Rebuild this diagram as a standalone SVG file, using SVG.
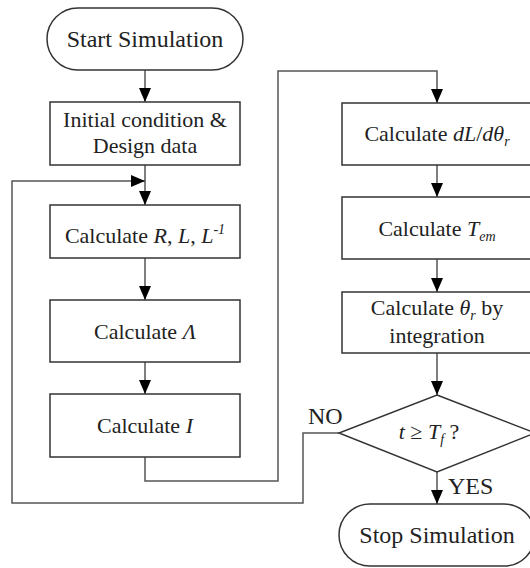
<svg xmlns="http://www.w3.org/2000/svg" width="530" height="568" viewBox="0 0 530 568">
<style>
.box{fill:#fff;stroke:#333;stroke-width:1.5}
.conn{fill:none;stroke:#555;stroke-width:1.5}
text{font-family:"Liberation Serif","Times New Roman",serif;font-size:22px;fill:#222;text-anchor:middle}
.term{font-size:24px}
.lbl{font-size:24px;text-anchor:start}
.it{font-style:italic}
</style>
<defs>
<marker id="ah" markerUnits="userSpaceOnUse" markerWidth="14" markerHeight="12" refX="14" refY="6" orient="auto">
<path d="M0,0 L14,6 L0,12 z" fill="#000"/>
</marker>
</defs>
<rect width="530" height="568" fill="#fff"/>
<g id="connectors">
<path class="conn" d="M145,70 V102" marker-end="url(#ah)"/>
<path class="conn" d="M145,165 V205" marker-end="url(#ah)"/>
<path class="conn" d="M339,433 H303 V503 H12 V181 H145" marker-end="url(#ah)"/>
<path class="conn" d="M145,258 V300" marker-end="url(#ah)"/>
<path class="conn" d="M145,362 V394" marker-end="url(#ah)"/>
<path class="conn" d="M145,457 V481 H278 V71 H437 V103" marker-end="url(#ah)"/>
<path class="conn" d="M437,165 V197" marker-end="url(#ah)"/>
<path class="conn" d="M437,259 V292" marker-end="url(#ah)"/>
<path class="conn" d="M437,353 V395" marker-end="url(#ah)"/>
<path class="conn" d="M437,472 V504" marker-end="url(#ah)"/>
</g>
<g id="start">
<rect class="box" x="47" y="8" width="196" height="62" rx="31"/>
<text class="term" x="145" y="47">Start Simulation</text>
</g>
<g id="init">
<rect class="box" x="50" y="102" width="190" height="63"/>
<text x="145" y="127">Initial condition &amp;</text>
<text x="145" y="153">Design data</text>
</g>
<g id="calcRL">
<rect class="box" x="50" y="205" width="190" height="53"/>
<text x="145" y="243">Calculate <tspan class="it">R</tspan>, <tspan class="it">L</tspan>, <tspan class="it">L</tspan><tspan class="it" font-size="14" dy="-9">-1</tspan></text>
</g>
<g id="calcLambda">
<rect class="box" x="50" y="300" width="190" height="62"/>
<text x="145" y="339">Calculate <tspan class="it">Λ</tspan></text>
</g>
<g id="calcI">
<rect class="box" x="50" y="394" width="190" height="63"/>
<text x="145" y="433">Calculate <tspan class="it">I</tspan></text>
</g>
<g id="calcdL">
<rect class="box" x="342" y="103" width="190" height="62"/>
<text x="437" y="141">Calculate <tspan class="it">dL</tspan>/<tspan class="it">dθ</tspan><tspan class="it" font-size="14" dy="5">r</tspan></text>
</g>
<g id="calcTem">
<rect class="box" x="342" y="197" width="190" height="62"/>
<text x="437" y="236">Calculate <tspan class="it">T</tspan><tspan class="it" font-size="14" dy="5">em</tspan></text>
</g>
<g id="calcTheta">
<rect class="box" x="342" y="292" width="190" height="61"/>
<text x="437" y="315">Calculate <tspan class="it">θ</tspan><tspan class="it" font-size="14" dy="5">r</tspan><tspan dy="-5"> by</tspan></text>
<text x="437" y="343">integration</text>
</g>
<g id="decision">
<polygon class="box" points="437,395 535,433 437,472 339,433"/>
<text x="429" y="439" fill="#444"><tspan class="it">t</tspan> ≥ <tspan class="it">T</tspan><tspan class="it" font-size="14" dy="5">f</tspan><tspan dy="-5"> ?</tspan></text>
</g>
<g id="stop">
<rect class="box" x="339" y="504" width="196" height="62" rx="31"/>
<text class="term" x="437" y="543">Stop Simulation</text>
</g>
<g id="labels">
<text class="lbl" x="308" y="424">NO</text>
<text class="lbl" x="448" y="494">YES</text>
</g>
</svg>
